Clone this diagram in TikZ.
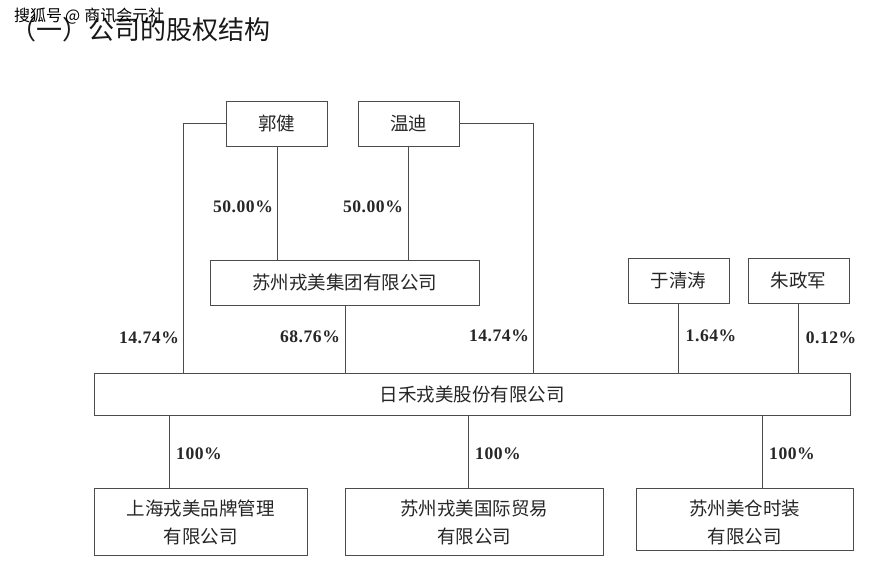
\documentclass[tikz,border=0pt]{standalone}
\usepackage{fontspec}
\setmainfont{Liberation Serif}
\newfontfamily\cjk{Noto Sans CJK SC}
\newfontfamily\pctf[LetterSpace=3]{Liberation Serif}
\definecolor{lnk}{gray}{0.3}
\tikzset{
 box/.style={draw=lnk,line width=0.9pt,fill=white,inner sep=0pt,align=center,font=\cjk\fontsize{18.5}{28}\selectfont,text=black!85},
 pct/.style={font=\pctf\bfseries\fontsize{17.6}{19}\selectfont,text=black!85,inner sep=0pt},
 link/.style={draw=lnk,line width=0.9pt}
}
\newcommand{\bx}[6]{\node[box,minimum width=#3*1pt,minimum height=#4*1pt] (#5) at ({(#1+#3/2)*1pt},{-(#2+#4/2)*1pt}) {#6};}
\newcommand{\pc}[4]{\node[pct] (#1) at ({#2*1pt},{-#3*1pt}) {#4};}
\begin{document}
\begin{tikzpicture}[x=1pt,y=1pt]
\useasboundingbox[fill=white] (0,0) rectangle (887,-561);
\node[anchor=west,inner sep=0pt,font=\cjk\fontsize{26}{28}\selectfont,text=black!90] (title) at (10,-30) {（一）公司的股权结构};
\node[anchor=west,inner sep=0pt,font=\cjk\fontsize{16}{18}\selectfont,text=black] (wm) at (14,-16) {搜狐号\hspace{3pt}@\hspace{4pt}商讯会元社};
\bx{226}{101}{101}{45}{guo}{郭健}
\bx{358}{101}{101}{45}{wen}{温迪}
\bx{210}{260}{269}{45}{grp}{苏州戎美集团有限公司}
\bx{628}{258}{101}{45}{yu}{于清涛}
\bx{748}{258}{101}{45}{zhu}{朱政军}
\bx{94}{373}{756}{42}{main}{日禾戎美股份有限公司}
\bx{94}{488}{213}{67}{sh}{\rule{0pt}{18pt}上海戎美品牌管理\\有限公司}
\bx{345}{488}{258}{67}{gj}{\rule{0pt}{18pt}苏州戎美国际贸易\\有限公司}
\bx{636}{488}{217}{62}{mc}{\rule{0pt}{22pt}苏州美仓时装\\有限公司}
\draw[link] (guo.west) -| (183,-373);
\draw[link] (wen.east) -| (533,-373);
\draw[link] (277,-146) -- (277,-260);
\draw[link] (408,-146) -- (408,-260);
\draw[link] (345,-305) -- (345,-373);
\draw[link] (678,-303) -- (678,-373);
\draw[link] (798,-303) -- (798,-373);
\draw[link] (169,-415) -- (169,-488);
\draw[link] (468,-415) -- (468,-488);
\draw[link] (762,-415) -- (762,-488);
\pc{a}{243}{207}{50.00\%}
\pc{b}{373}{207}{50.00\%}
\pc{c}{149}{338}{14.74\%}
\pc{d}{310}{337}{68.76\%}
\pc{e}{499}{336}{14.74\%}
\pc{f}{711}{336}{1.64\%}
\pc{g}{831}{338}{0.12\%}
\pc{h}{199}{454}{100\%}
\pc{i}{498}{454}{100\%}
\pc{j}{792}{454}{100\%}
\end{tikzpicture}
\end{document}
